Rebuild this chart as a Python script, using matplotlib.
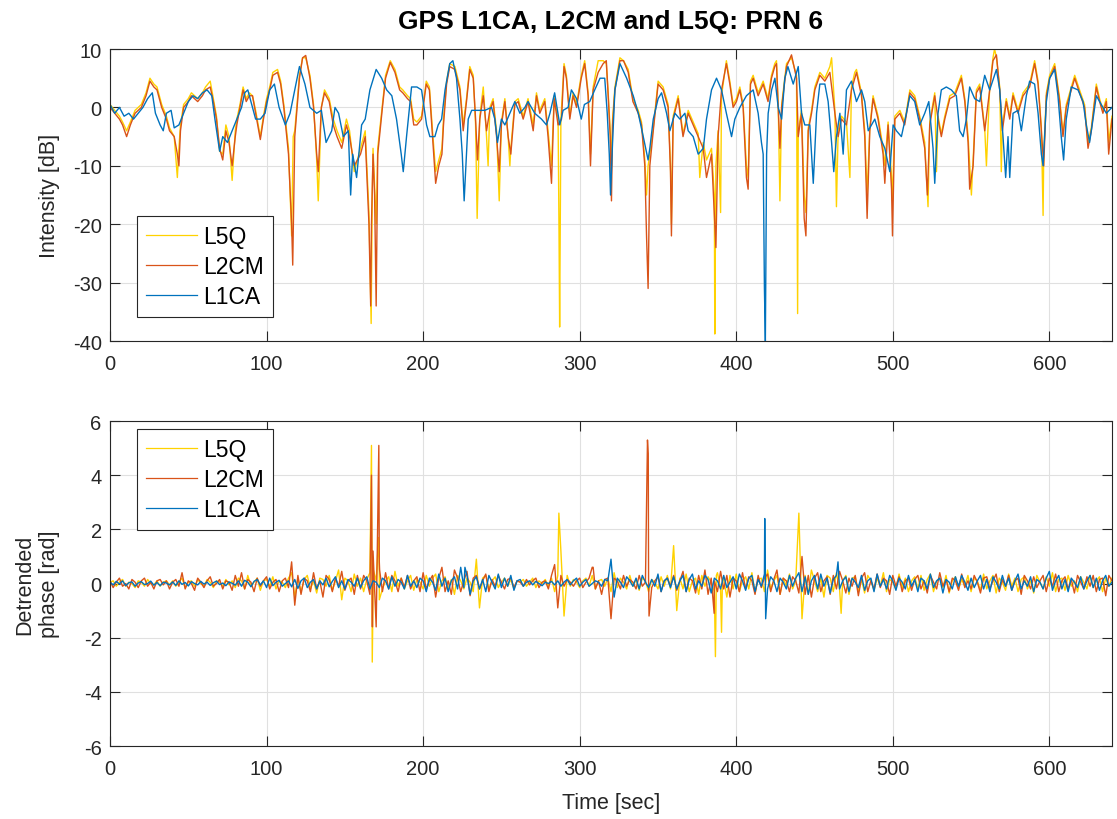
import numpy as np
import matplotlib
matplotlib.use('Agg')
import matplotlib.pyplot as plt

# Intensity [dB], (time, value) pairs
l1ca_db = [(0, 0.5), (3, -1), (6, 0), (9, -1.5), (12, -1), (15, -2), (18, -1), (21, 0), (24, 1.5),
           (27, 2.5), (29, -1), (32, -3), (34, -4), (36, -1), (39, -0.5), (41, -3.5), (44, -3), (47, -1),
           (50, 1), (53, 2), (56, 1.5), (59, 2.5), (62, 3), (65, 2), (67, -2), (70, -7.5), (72, -5),
           (75, -6), (78, -4), (81, -2), (84, 0), (86, 2.5), (88, 3), (90, 1), (93, -2), (96, -2),
           (99, -1), (102, 3), (105, 4), (108, 0), (112, -3), (115, -1), (118, 3), (121, 7), (124.5, 4),
           (127.7, 0), (132, -1), (135, -0.5), (138, -6), (141.6, -4), (143.7, 0), (146, -1), (149, -5),
           (152.2, -4), (153.7, -15), (155, -8), (157.5, -12), (160.7, -3), (163, -2), (166, 3),
           (170, 6.5), (173.5, 5), (176.7, 3), (180, 2), (183, -2), (186, -8), (187.3, -11), (189.4, -5),
           (192.6, 3.5), (196, 3.5), (199, 3), (202.2, -3), (204.3, -5), (207.5, -5), (209.6, -3),
           (211.8, -2), (214, 3), (217, 7.5), (219, 8), (221.3, 5), (223.5, -2), (225, -8), (226.2, -16),
           (227.7, -8), (228.8, -2), (231, -0.5), (235, -0.5), (239.4, -0.5), (243.7, 0), (245.8, -2),
           (247.5, -6), (250, -2), (252.2, -3), (255.4, -1), (258.6, 1), (261.8, -1), (265, 0), (267, 1),
           (271.3, -1), (275.6, -2), (278.8, -3), (281, -1), (284, 2.5), (287.3, -3), (289.4, -0.5),
           (292.6, 0), (294.7, 3), (298, 1.5), (301, -2), (303, 0.5), (306.4, 1), (309.6, 3), (313, 5),
           (316, 5), (317.6, -1), (318.9, -8), (319.7, -15), (321, -6), (322.5, 3), (325.7, 7.5),
           (330, 5), (334.2, 2), (337.4, -1), (340.6, -5), (343.7, -9), (344.8, -7), (347, -2),
           (350.1, 1.5), (352.3, 2.5), (355.5, -1), (357.6, -4), (360.8, -1), (364, -2), (367.2, -1),
           (369.3, -4), (372.5, -5), (375.7, -8), (379, -7), (381, -2), (384.2, 3), (387.4, 5),
           (390.6, 3), (393.7, -1), (397, -5), (399.1, -2), (402.3, 0), (406.5, 2), (410.8, 3), (414, -1),
           (416.1, -6), (417.2, -8), (418, -31), (418.6, -40), (419.4, -8), (420.4, -1), (422.6, 3),
           (424.7, 5), (426.8, 0), (429, -2), (431, 5), (433, 7), (436.4, 4), (439.6, 7), (441.7, -1),
           (443.8, -3), (447, -3), (449.2, -13), (451.3, -1), (453.4, 4), (456.6, 4), (458.7, 1),
           (460.9, -6), (462.3, -11), (464, -5), (466.2, -1), (468.3, -8), (470.4, 3), (473.6, 4.5),
           (476.8, 1), (480, 3), (482.1, 1), (484.3, -4), (486.4, -3), (488.5, -2), (491.7, -5),
           (494.9, -7), (498.1, -11), (500.2, -3), (502.3, -4), (505.5, -5), (508.7, -1), (510.9, 2),
           (514, 1), (517.2, -3), (520.4, -1), (523, 1), (525.7, -7), (526.8, -13), (528.9, -1), (531, 3),
           (534.2, 3.5), (537.4, 3), (540.6, 2), (542.7, -4), (544.9, -5), (547, -2), (549.1, 3.5),
           (552.3, 1.5), (555.5, 1), (558.7, 5.5), (561.9, 3), (566.2, 6.5), (568.3, 3), (570.4, -5),
           (572.1, -12), (573.6, -5), (574.7, -12), (576.8, -1), (580, -0.5), (582.1, -4), (585.3, 2),
           (587.4, 4.5), (590.6, 4), (592.8, -1), (594.9, -8), (596, -10), (598.1, 1), (600.2, 5),
           (603.4, 6.5), (605.5, 2), (607.6, -5), (609.1, -9), (610.8, -2), (614, 3.5), (618.3, 3),
           (621.5, 1), (623.6, -3), (625.7, -6), (627.9, -2), (630, 2), (632.1, 1), (634.2, 0),
           (636.4, -1), (640, 0)]

l2cm_db = [(0, 0), (3, -1), (6, -2), (8, -3), (10.6, -5), (13, -3), (16, -1), (20, 0), (23, 2),
           (25.5, 4.5), (28, 3.5), (30, 3), (33, 0), (36, -2), (38, -4), (41, -5), (43, -8), (44, -10),
           (45, -4), (47, 0), (50, 1), (52, 2), (56, 1), (59, 2), (61, 3), (64, 3.5), (66, 1), (68, -2),
           (70, -7), (72, -9), (74, -4), (76, -6), (78, -10), (80, -5), (81, -3), (83, 0), (85, 3),
           (87, 1), (89, 2), (91, 2), (93, -1), (96, -5.5), (98, -2), (100, 1), (102, 3), (104, 5.5),
           (107, 6), (109, 4), (111, 0), (114, -8), (116, -20), (116.7, -27), (118, -5), (121, 5),
           (123, 8.5), (125, 8.9), (127.7, 5), (130, 0), (132, -8), (133, -11), (135, 0), (137, 2.5),
           (140, 1), (142.6, -3), (145, -5), (148, -7), (151, -3), (153, -5), (156, -10), (160, -8),
           (163, -5), (165.4, -20), (166.5, -34), (167, -20), (168, -8), (169, -15), (170, -34),
           (171, -8), (174, 0), (176, 5), (179, 7.7), (182, 6), (185, 3), (187, 2.5), (190, 1.5),
           (192, 1), (194, -3), (196, -3), (199, -2), (202, 4), (204, 3), (206, -5), (208, -13),
           (210, -10), (212, -8), (213, -3), (215, 4), (217, 7), (220.3, 6.5), (223.5, 3), (225.6, -4),
           (227.7, 1), (229.8, 6.5), (232, 5), (233.5, -2), (234.7, -9), (236.2, -2), (238.4, 2),
           (240.5, -4), (242.6, -0.5), (244.7, 1), (246.9, -5), (248.6, -11), (250, -3), (252.2, 1),
           (254.3, -5), (256, -8), (258.6, 0.5), (260.7, 1), (263.9, -2), (267, 1), (270.3, -4),
           (272.4, 2), (274.5, -1), (277.7, 1), (279.8, -5), (282, -13), (283.7, 1.5), (286.2, -3),
           (288.4, -2), (290, 7), (291.5, 5), (293.7, -2), (295.8, 2), (298, 0), (301, 5), (303.2, 7.5),
           (305.4, 2), (306.9, -10), (308.6, 3), (311.8, 6), (315, 7.5), (317, 8), (318.2, 2),
           (319.5, -5), (320.3, -16), (321, -3), (322.5, 3), (325.7, 8), (328, 8), (331, 6), (334, 1),
           (337.4, -1), (339.5, -3), (341.6, -10), (342.7, -22), (343.7, -31), (344.8, -10), (347, -4),
           (350.1, 4), (353.3, 3), (356.5, 0), (358, -11), (358.6, -22), (359.7, -2), (362.9, 1.5),
           (366, -5), (369.3, -1), (372.5, -3), (375.7, -5), (378.9, -7), (381, -12), (384.2, -8),
           (386.3, -20), (387, -24), (388.4, -5), (390.6, 3), (393.7, 7.5), (395.9, 4), (398, 0),
           (400.1, 1), (402.3, 3), (404.4, 0), (406.5, -12), (407.6, -14), (409.1, 4), (410.8, 5),
           (414, 2), (417.2, 4), (420.3, 1), (422.5, 5), (424.6, 7), (425.7, 7.5), (426.8, 0),
           (427.9, -7), (429, 0), (432.1, 7), (435.3, 9), (438.5, 5), (439.6, -5), (441.7, -1),
           (443.4, -19), (444.5, -22), (446, -4), (448.1, -1), (450.2, 3), (453.4, 5.5), (456.6, 4.5),
           (459.8, 6), (463, -1), (465.1, -5), (467.2, -2), (470.4, -3), (473.6, 3), (476.8, 6),
           (480, 2), (482.1, -5), (483.6, -19), (485.3, -4), (487.4, 1.5), (490.6, -2), (493.8, -8),
           (494.9, -13), (497, -3), (499.2, -14), (499.8, -22), (501.3, -2), (504.5, -1), (507.6, -3),
           (510.9, 2.5), (514, 1.5), (517.2, -2), (520.4, -7), (522.1, -15), (523.6, -3), (526.8, 2),
           (528.9, -2), (531, -5), (533.2, -2), (536.4, 1.5), (539.6, 2), (543.8, 5), (546, 1),
           (548.1, -6), (549.1, -14), (551.3, -10), (553.4, 2.5), (555.5, 3.5), (558.7, -4), (561.9, 3),
           (564, 8), (566.2, 9), (568.3, 3), (570, -4), (572.5, 1), (574.7, -2), (576.8, 2), (580, -1),
           (583.2, 2), (587.4, 3.5), (590.6, 7.5), (592.8, 4), (594.9, -4), (596.4, -10), (598.1, 2),
           (600.2, 5), (603.4, 7), (606.6, 1), (608.7, -5), (610.8, 0), (614, 3), (616.2, 5),
           (619.3, 2.5), (622.5, 0), (624.7, -7), (626.8, -4), (630, 3.5), (632.1, 1), (634.2, -1),
           (636.4, 1), (637.9, -8), (640, -2)]

l5q_db = [(0, 0.5), (3, -0.5), (6, -1.5), (8, -2.5), (10.6, -4), (13, -2.5), (16, -0.5), (20, 0.5),
          (23, 2.5), (25.5, 5), (28, 4), (30, 3.5), (33, 0.5), (36, -1.5), (38, -3.5), (41, -5),
          (43, -12), (44, -7), (45, -3), (47, 0.5), (50, 1.5), (52, 2.5), (56, 1.5), (59, 2.5),
          (61, 3.5), (64, 4.5), (66, 1.5), (68, -1.5), (70, -7.5), (72, -8), (74, -3), (76, -5),
          (78, -12.5), (80, -4), (81, -2), (83, 0.5), (85, 3.5), (87, 1.5), (89, 2.5), (91, 2),
          (93, -0.5), (96, -5), (98, -1.5), (100, 1.5), (102, 3.5), (104, 6), (107, 6.5), (109, 4.5),
          (111, 0.5), (114, -7), (116, -22), (117, -5), (118, -4), (121, 5.5), (123, 8.5), (125, 8.5),
          (127.7, 5.5), (130, 0.5), (132, -9), (133, -16), (134, -8), (135, 0), (137, 3), (140, 1.5),
          (142.6, -2), (145, -4), (148, -6), (151, -2), (153, -4), (156, -11), (160, -7), (163, -4),
          (165.4, -18), (166.8, -37), (167.5, -15), (168, -7), (170, -20), (171, -7), (174, 0.5),
          (176, 5.5), (179, 8), (182, 6.5), (185, 3.5), (187, 3), (190, 2), (192, 1.5), (194, -2),
          (196, -2.5), (199, -1.5), (202, 4.5), (204, 3.5), (206, -4), (208, -11), (210, -9), (212, -7),
          (213, -2), (215, 4.5), (217, 7.5), (220.3, 7), (223.5, 3.5), (225.6, -3), (227.7, 1.5),
          (229.8, 7), (232, 5.5), (233.5, -3), (234.5, -19), (236.2, -1.5), (238.4, 3.5), (240.5, -5),
          (241.5, -10), (242.6, 0), (244.7, 1.5), (246.9, -4), (248.6, -16), (250, -2.5), (252.2, 1.5),
          (254.3, -5), (255.4, -10), (256, -7), (258.6, 1), (260.7, 1.5), (263.9, -1.5), (267, 1.5),
          (270.3, -3), (272.4, 2.5), (274.5, -0.5), (277.7, 1.5), (279.8, -4), (282, -10), (283.7, 2),
          (286.2, -2), (286.8, -21.5), (287.2, -37.6), (288, -2), (290, 7.5), (291.5, 5.5),
          (293.7, -1.5), (295.8, 2.5), (298, 0.5), (301, 5.5), (303.2, 8), (305.4, 2.5), (306.9, -8),
          (308.6, 3.5), (311.8, 8), (315, 8), (317, 7.5), (318.2, 2.5), (319.5, -4), (320.3, -10),
          (321, -2), (322.5, 3.5), (325.7, 8.5), (328, 8), (331, 6.5), (334, 1.5), (337.4, -0.5),
          (339.5, -2.5), (341.6, -9), (342.7, -15), (343.7, -10), (344.8, -8), (347, -3.5), (350.1, 4.5),
          (353.3, 3.5), (356.5, 0.5), (358, -10), (358.6, -20), (359.7, -1.5), (362.9, 2), (366, -4.5),
          (369.3, -0.5), (372.5, -2.5), (375.7, -4.5), (376.7, -12), (378.9, -6), (381, -9),
          (384.2, -7), (386, -15), (386.3, -38.8), (387, -10), (388.4, -4), (390, -18), (390.6, 2),
          (393.7, 8), (395.9, 4.5), (398, 0.5), (400.1, 1.5), (402.3, 3.5), (404.4, 0.5), (406.5, -10),
          (407.6, -12), (409.1, 4.5), (410.8, 5.5), (414, 2.5), (417.2, 4.5), (420.3, 1.5), (422.5, 5.5),
          (424.6, 7.5), (425.7, 8), (426.8, 0.5), (427.9, -16), (429, 0.5), (432.1, 7.5), (435.3, 8.5),
          (438.5, 5.5), (439.2, -35.3), (439.6, -4), (441.7, -0.5), (443.4, -15), (444.5, -18),
          (446, -3.5), (448.1, -0.5), (450.2, 3.5), (453.4, 6), (456.6, 5), (459.8, 7), (460.9, 8.5),
          (463, -0.5), (464, -17), (465.1, -4), (467.2, -1.5), (470.4, -2.5), (472.6, -12), (473.6, 3.5),
          (475.7, 6), (476.8, 6.5), (480, 2.5), (482.1, -4), (483.6, -15), (485.3, -3.5), (487.4, 2),
          (490.6, -1.5), (493.8, -7), (494.9, -10), (497, -2.5), (499.2, -12), (499.8, -16),
          (501.3, -1.5), (504.5, -0.5), (507.6, -2.5), (510.9, 3), (514, 2), (517.2, -1.5), (520.4, -6),
          (522.5, -17), (523.6, -2.5), (526.8, 2.5), (527.9, -11), (528.9, -1.5), (531, -4.5),
          (533.2, -1.5), (536.4, 2), (539.6, 2.5), (543.8, 5.5), (546, 1.5), (548.1, -5), (550.2, -15),
          (551.3, -9), (553.4, 3), (555.5, 4), (558.7, -3.5), (559.8, -10), (561.9, 3.5), (564, 8.5),
          (565, 10), (566.2, 8.5), (568.3, 3.5), (569.3, -11), (570, -3), (572.5, 1.5), (574.7, -1.5),
          (576.8, 2.5), (580, -0.5), (583.2, 2.5), (587.4, 4), (590.6, 8), (592.8, 4.5), (594.9, -3.5),
          (596, -18.5), (596.4, -8), (598.1, 2.5), (600.2, 5.5), (603.4, 7.5), (606.6, 1.5),
          (608.7, -4.5), (610.8, 0.5), (614, 3.5), (616.2, 5.5), (619.3, 3), (622.5, 0.5), (624.7, -6),
          (626.8, -3.5), (630, 4), (632.1, 1.5), (634.2, -0.5), (636.4, 1.5), (637.9, -6), (640, -1.5)]

# Detrended phase [rad], sampled every 2 s from 0 to 640 s
t_phase = np.arange(0, 641, 2)

l1ca_ph = [0.05, -0.05, 0.08, -0.02, 0.1, -0.08, 0.03, 0.06, -0.1, 0.02, 0.07, -0.04, 0.0, 0.09, -0.06, 0.04, -0.08, 0.05, 0.02, -0.05,
           0.06, -0.07, 0.1, -0.03, 0.04, -0.09, 0.07, 0.0, -0.05, 0.08, -0.02, 0.05, -0.07, 0.03, 0.09, -0.04, 0.02, -0.08, 0.06, 0.01,
           -0.06, 0.1, -0.1, 0.12, 0.05, -0.12, 0.08, 0.15, -0.05, 0.1, -0.15, 0.2, -0.08, 0.05, 0.12, -0.1, 0.0, 0.1, -0.12, 0.15,
           -0.18, 0.1, 0.2, -0.15, 0.05, 0.15, -0.2, 0.1, -0.05, 0.2, -0.12, 0.08, 0.25, -0.15, 0.1, -0.2, 0.15, 0.05, -0.1, 0.2,
           -0.15, 0.1, 0.25, -0.2, 0.1, 0.05, -0.15, 0.2, 0.1, -0.2, 0.25, -0.1, 0.15, 0.05, -0.2, 0.3, -0.1, 0.1, -0.15, 0.2,
           0.1, -0.3, 0.2, 0.05, -0.25, 0.35, -0.1, 0.2, -0.3, 0.1, 0.25, -0.2, 0.6, -0.15, 0.3, -0.4, 0.1, 0.25, -0.2, 0.15,
           -0.3, 0.3, 0.05, -0.2, 0.35, -0.15, 0.2, -0.1, 0.3, -0.25, 0.1, 0.15, -0.1, 0.05, 0.1, -0.05, 0.08, 0.0, -0.08, 0.05,
           0.0, 0.08, -0.05, 0.1, -0.1, 0.05, 0.15, -0.05, 0.1, 0.2, -0.1, 0.05, 0.15, -0.1, 0.0, 0.1, 0.05, -0.1, 0.15, 0.1,
           0.9, -0.5, 0.2, 0.05, -0.15, 0.25, 0.1, -0.1, 0.2, -0.2, 0.3, 0.05, -0.15, 0.15, -0.1, 0.35, -0.3, 0.1, 0.2, -0.15,
           0.25, -0.2, 0.1, 0.3, -0.3, 0.15, 0.35, -0.2, 0.1, -0.1, 0.3, 0.15, -0.35, 0.2, 0.1, -0.2, 0.3, -0.15, 0.05, 0.25,
           -0.2, 0.35, 0.1, -0.25, 0.2, 0.3, -0.3, 0.15, -0.1, 0.35, -0.2, 0.25, 0.1, -0.3, 0.2, 0.05, -0.2, 0.3, -0.1, 0.2,
           0.4, -0.3, 0.25, -0.4, 0.1, 0.3, -0.2, 0.35, -0.1, 0.2, -0.35, 0.15, 0.3, -0.2, 0.1, 0.25, -0.3, 0.2, 0.05, -0.15,
           0.3, -0.25, 0.1, 0.2, -0.3, 0.35, -0.1, 0.15, -0.2, 0.3, 0.1, -0.25, 0.2, 0.05, -0.2, 0.3, -0.1, 0.15, -0.3, 0.2,
           0.1, -0.2, 0.35, -0.15, 0.1, 0.2, -0.35, 0.15, 0.05, -0.2, 0.25, -0.1, 0.3, 0.05, -0.25, 0.2, -0.15, 0.1, 0.3, -0.2,
           0.15, -0.3, 0.25, 0.05, -0.2, 0.3, -0.1, 0.2, -0.25, 0.1, 0.35, -0.2, 0.1, -0.1, 0.25, -0.3, 0.15, 0.05, -0.2, 0.2,
           0.45, -0.25, 0.1, 0.3, -0.2, 0.15, -0.3, 0.2, 0.05, -0.15, 0.25, -0.2, 0.1, 0.3, -0.15, 0.2, -0.25, 0.1, 0.3, -0.1,
           0.05]

l2cm_ph = [0.1, -0.15, 0.05, 0.2, -0.1, 0.0, -0.2, 0.15, 0.05, -0.15, 0.1, 0.2, -0.1, 0.05, -0.2, 0.1, 0.15, -0.05, 0.1, -0.2,
           0.05, 0.15, -0.1, 0.4, -0.2, 0.1, 0.0, -0.25, 0.2, 0.05, -0.15, 0.1, 0.25, -0.1, 0.0, 0.15, -0.2, 0.1, 0.05, -0.25,
           0.3, -0.1, 0.4, -0.2, 0.15, 0.05, -0.3, 0.2, -0.1, 0.1, 0.25, -0.2, 0.05, 0.15, -0.3, 0.1, 0.2, -0.15, 0.8, -0.8,
           0.3, -0.4, 0.2, 0.1, -0.3, 0.4, -0.2, 0.1, -0.5, 0.3, 0.15, -0.3, 0.2, -0.1, 0.45, -0.25, 0.1, 0.2, -0.4, 0.3,
           -0.2, 0.3, 0.1, -0.4, 1.2, -1.6, 0.8, -0.3, 0.4, -0.2, 0.3, 0.1, -0.3, 0.2, -0.15, 0.3, -0.2, 0.1, 0.25, -0.3,
           0.4, -0.2, 0.1, 0.3, -0.5, 0.2, 0.6, -0.3, 0.1, -0.4, 0.5, 0.2, -0.3, 0.1, 0.45, -0.45, 0.2, 0.3, -0.2, 0.1,
           0.35, -0.3, 0.15, -0.1, 0.3, 0.05, -0.2, 0.15, 0.2, -0.15, 0.1, 0.05, -0.1, 0.15, -0.05, 0.1, 0.2, -0.15, 0.05, 0.1,
           -0.2, 0.3, 0.7, -0.9, 0.3, -0.1, 0.15, 0.05, -0.1, 0.1, 0.2, -0.15, 0.05, 0.2, 0.6, -0.2, 0.1, -0.4, 0.15, 0.2,
           -1.3, 0.2, 0.1, -0.2, 0.3, -0.1, 0.15, 0.05, -0.2, 0.3, -0.1, 0.05, 0.2, -0.15, 0.1, 0.25, -0.3, 0.1, 0.2, -0.1,
           0.3, -0.25, 0.1, 0.45, -0.3, 0.2, 0.1, -0.35, 0.3, -0.2, 0.5, -0.4, 0.2, 0.1, -0.3, 0.45, -0.2, 0.3, -0.5, 0.2,
           0.1, -0.3, 0.4, -0.2, 0.25, 0.1, -0.4, 0.3, -0.15, 0.2, 0.35, -0.3, 0.15, 0.5, -0.4, 0.2, 0.1, -0.3, 0.25, 0.1,
           -0.35, 1.0, -0.4, 0.3, -0.5, 0.2, 0.4, -0.3, 0.1, 0.25, -0.4, 0.3, -0.2, 0.45, 0.1, -0.35, 0.2, -0.1, 0.3, -0.45,
           0.2, 0.4, -0.3, 0.1, -0.2, 0.35, -0.15, 0.2, 0.1, -0.4, 0.3, -0.1, 0.25, -0.3, 0.1, 0.2, -0.25, 0.15, 0.3, -0.2,
           0.1, -0.35, 0.3, 0.05, -0.2, 0.4, -0.1, 0.15, -0.3, 0.2, 0.1, -0.25, 0.35, -0.15, 0.1, -0.2, 0.3, 0.05, -0.35, 0.2,
           0.25, -0.2, 0.1, 0.35, -0.3, 0.15, -0.1, 0.3, -0.25, 0.1, 0.2, -0.4, 0.3, 0.1, -0.2, 0.25, -0.15, 0.1, 0.3, -0.3,
           0.2, -0.1, 0.35, -0.3, 0.1, 0.25, -0.2, 0.15, -0.35, 0.3, 0.05, -0.2, 0.25, -0.1, 0.3, -0.3, 0.15, 0.2, -0.45, 0.3,
           0.1]

l5q_ph = [0.05, 0.1, -0.1, 0.05, 0.15, -0.1, 0.05, 0.0, -0.15, 0.1, 0.05, -0.1, 0.15, 0.0, -0.05, 0.1, -0.1, 0.05, 0.1, -0.05,
          0.1, -0.1, 0.05, 0.2, -0.15, 0.05, 0.1, -0.1, 0.15, 0.0, -0.1, 0.15, 0.05, -0.15, 0.1, 0.05, -0.1, 0.15, -0.05, 0.1,
          -0.15, 0.2, 0.1, -0.2, 0.3, -0.1, 0.05, 0.2, -0.25, 0.1, 0.15, -0.1, 0.25, -0.2, 0.1, 0.05, -0.15, 0.2, 0.4, -0.5,
          0.2, -0.3, 0.15, 0.3, -0.2, 0.1, -0.35, 0.2, 0.15, -0.1, 0.3, -0.25, 0.1, 0.5, -0.6, 0.2, 0.1, -0.3, 0.35, -0.1,
          0.2, -0.3, 0.15, 0.4, -0.5, 0.1, 0.3, -0.2, 0.1, 0.25, -0.3, 0.45, -0.1, 0.2, -0.2, 0.1, 0.3, -0.25, 0.15, 0.05,
          -0.2, 0.3, -0.1, 0.2, 0.35, -0.3, 0.1, 0.25, -0.2, 0.15, -0.4, 0.3, 0.1, -0.2, 0.2, 0.05, -0.3, 0.9, -0.9, 0.2,
          0.3, -0.2, 0.1, 0.25, -0.15, 0.05, 0.2, -0.1, 0.15, -0.2, 0.1, 0.05, 0.15, -0.1, 0.05, 0.2, -0.15, 0.1, 0.0, 0.15,
          -0.1, 0.2, -0.3, 0.3, 1.2, -1.2, 0.3, -0.1, 0.15, 0.05, -0.15, 0.1, 0.2, -0.1, 0.3, -0.2, 0.1, 0.15, -0.1, 0.2,
          -0.3, 0.4, -0.15, 0.2, 0.05, -0.2, 0.3, -0.1, 0.15, -0.25, 0.2, 0.1, -0.3, 0.15, 0.05, -0.2, 0.25, -0.1, 0.3, -0.2,
          1.4, -1.0, 0.2, -0.2, 0.35, -0.3, 0.1, 0.2, -0.4, 0.3, -0.1, 0.25, 0.05, -0.3, 0.4, -0.2, 0.15, -0.5, 0.3, -0.2,
          0.35, -0.3, 0.1, 0.25, -0.2, 0.4, -0.35, 0.15, 0.2, -0.3, 0.5, -0.2, 0.1, 0.3, -0.4, 0.2, -0.1, 0.35, -0.2, 0.1,
          2.6, -1.3, 0.3, -0.4, 0.5, 0.1, -0.3, 0.2, -0.5, 0.3, 0.2, -0.3, 0.4, -0.2, 0.1, 0.3, -0.4, 0.2, 0.25, -0.3,
          0.15, -0.35, 0.3, 0.1, -0.25, 0.2, -0.1, 0.4, -0.3, 0.15, 0.05, -0.2, 0.35, -0.15, 0.2, -0.3, 0.1, 0.25, -0.2, 0.3,
          -0.25, 0.15, 0.35, -0.3, 0.1, 0.2, -0.15, 0.3, -0.35, 0.1, 0.25, -0.2, 0.15, -0.1, 0.3, -0.3, 0.2, 0.1, -0.25, 0.35,
          -0.2, 0.1, 0.3, -0.35, 0.2, 0.05, -0.25, 0.35, -0.1, 0.2, -0.3, 0.15, 0.25, -0.2, 0.1, -0.35, 0.3, 0.05, -0.2, 0.25,
          -0.1, 0.4, -0.3, 0.15, 0.2, -0.25, 0.3, -0.1, 0.1, -0.3, 0.25, 0.05, -0.2, 0.3, -0.15, 0.1, 0.25, -0.3, 0.2, -0.1,
          0.2]

# phase spikes between the 2 s samples: (time, value)
l1ca_spk = [(226.7, 0.6), (418.2, 2.4), (418.8, -1.3), (465, 0.8)]
l2cm_spk = [(167.0, 4.0), (167.6, -1.6), (171.7, 5.1), (172.2, 0.5), (308.6, 0.6),
            (343.3, 5.3), (343.8, 4.8), (344.3, -1.2), (385.9, -1.1)]
l5q_spk = [(167.0, 5.1), (167.5, -2.9), (168.2, 0.5), (171.5, 1.7), (172.0, -0.6),
           (286.7, 2.6), (386.7, -2.7), (387.3, 0.3), (390.6, -1.8), (391.2, 0.2), (467, -1.1)]

c_l5q = '#FFD200'
c_l2cm = '#D95319'
c_l1ca = '#0072BD'
ink = '#262626'


def merge(vals, spikes):
    t = np.concatenate([t_phase, [s[0] for s in spikes]])
    v = np.concatenate([vals, [s[1] for s in spikes]])
    idx = np.argsort(t, kind='stable')
    return t[idx], v[idx]


def style(ax):
    ax.set_xlim(0, 640)
    ax.grid(True, color='#E0E0E0', lw=0.8)
    ax.set_axisbelow(True)
    for s in ax.spines.values():
        s.set_color(ink)
        s.set_linewidth(0.8)
    ax.tick_params(direction='in', length=7, width=0.8, top=True, right=True,
                   colors=ink, labelsize=14.5)
    ax.tick_params(axis='x', pad=9)
    ax.tick_params(axis='y', pad=6)
    ax.set_xticks(np.arange(0, 641, 100))


plt.rcParams['font.family'] = ['Liberation Sans', 'DejaVu Sans']
plt.rcParams['axes.unicode_minus'] = False

fig = plt.figure(figsize=(11.17, 8.20), dpi=100)
ax1 = fig.add_axes([0.0985, 0.5829, 0.8970, 0.3561])
ax2 = fig.add_axes([0.0985, 0.0890, 0.8970, 0.3963])

lw = 1.0
for name, data, col in [('L5Q', l5q_db, c_l5q), ('L2CM', l2cm_db, c_l2cm), ('L1CA', l1ca_db, c_l1ca)]:
    tt, vv = np.array(data).T
    ax1.plot(tt, vv, color=col, lw=lw, label=name)
style(ax1)
ax1.set_ylim(-40, 10)
ax1.set_yticks(np.arange(-40, 11, 10))
ax1.set_ylabel('Intensity [dB]', fontsize=15.5, color=ink)
ax1.yaxis.set_label_coords(-0.05, 0.5)
ax1.text(0.5, 1.096, 'GPS L1CA, L2CM and L5Q: PRN 6', transform=ax1.transAxes,
         ha='center', va='center', fontsize=19, fontweight='bold', color='black')

for name, vals, spk, col in [('L5Q', l5q_ph, l5q_spk, c_l5q), ('L2CM', l2cm_ph, l2cm_spk, c_l2cm),
                             ('L1CA', l1ca_ph, l1ca_spk, c_l1ca)]:
    tt, vv = merge(vals, spk)
    ax2.plot(tt, vv, color=col, lw=lw, label=name)
style(ax2)
ax2.set_ylim(-6, 6)
ax2.set_yticks(np.arange(-6, 7, 2))
ax2.set_ylabel('Detrended\nphase [rad]', fontsize=15.5, color=ink, linespacing=1.2)
ax2.yaxis.set_label_coords(-0.05, 0.5)
ax2.set_xlabel('Time [sec]', fontsize=15.5, color=ink)
ax2.xaxis.set_label_coords(0.5, -0.14)

for ax, y0 in [(ax1, 0.428), (ax2, 0.975)]:
    leg = ax.legend(loc='upper left', bbox_to_anchor=(0.027, y0), borderaxespad=0,
                    fontsize=16.5, fancybox=False, framealpha=1, edgecolor=ink,
                    handlelength=2.2, handletextpad=0.3, labelspacing=0.3, borderpad=0.4)
    leg.get_frame().set_linewidth(0.8)
    for h in leg.get_lines():
        h.set_linewidth(0.9)

fig.savefig('out.png', dpi=100)
